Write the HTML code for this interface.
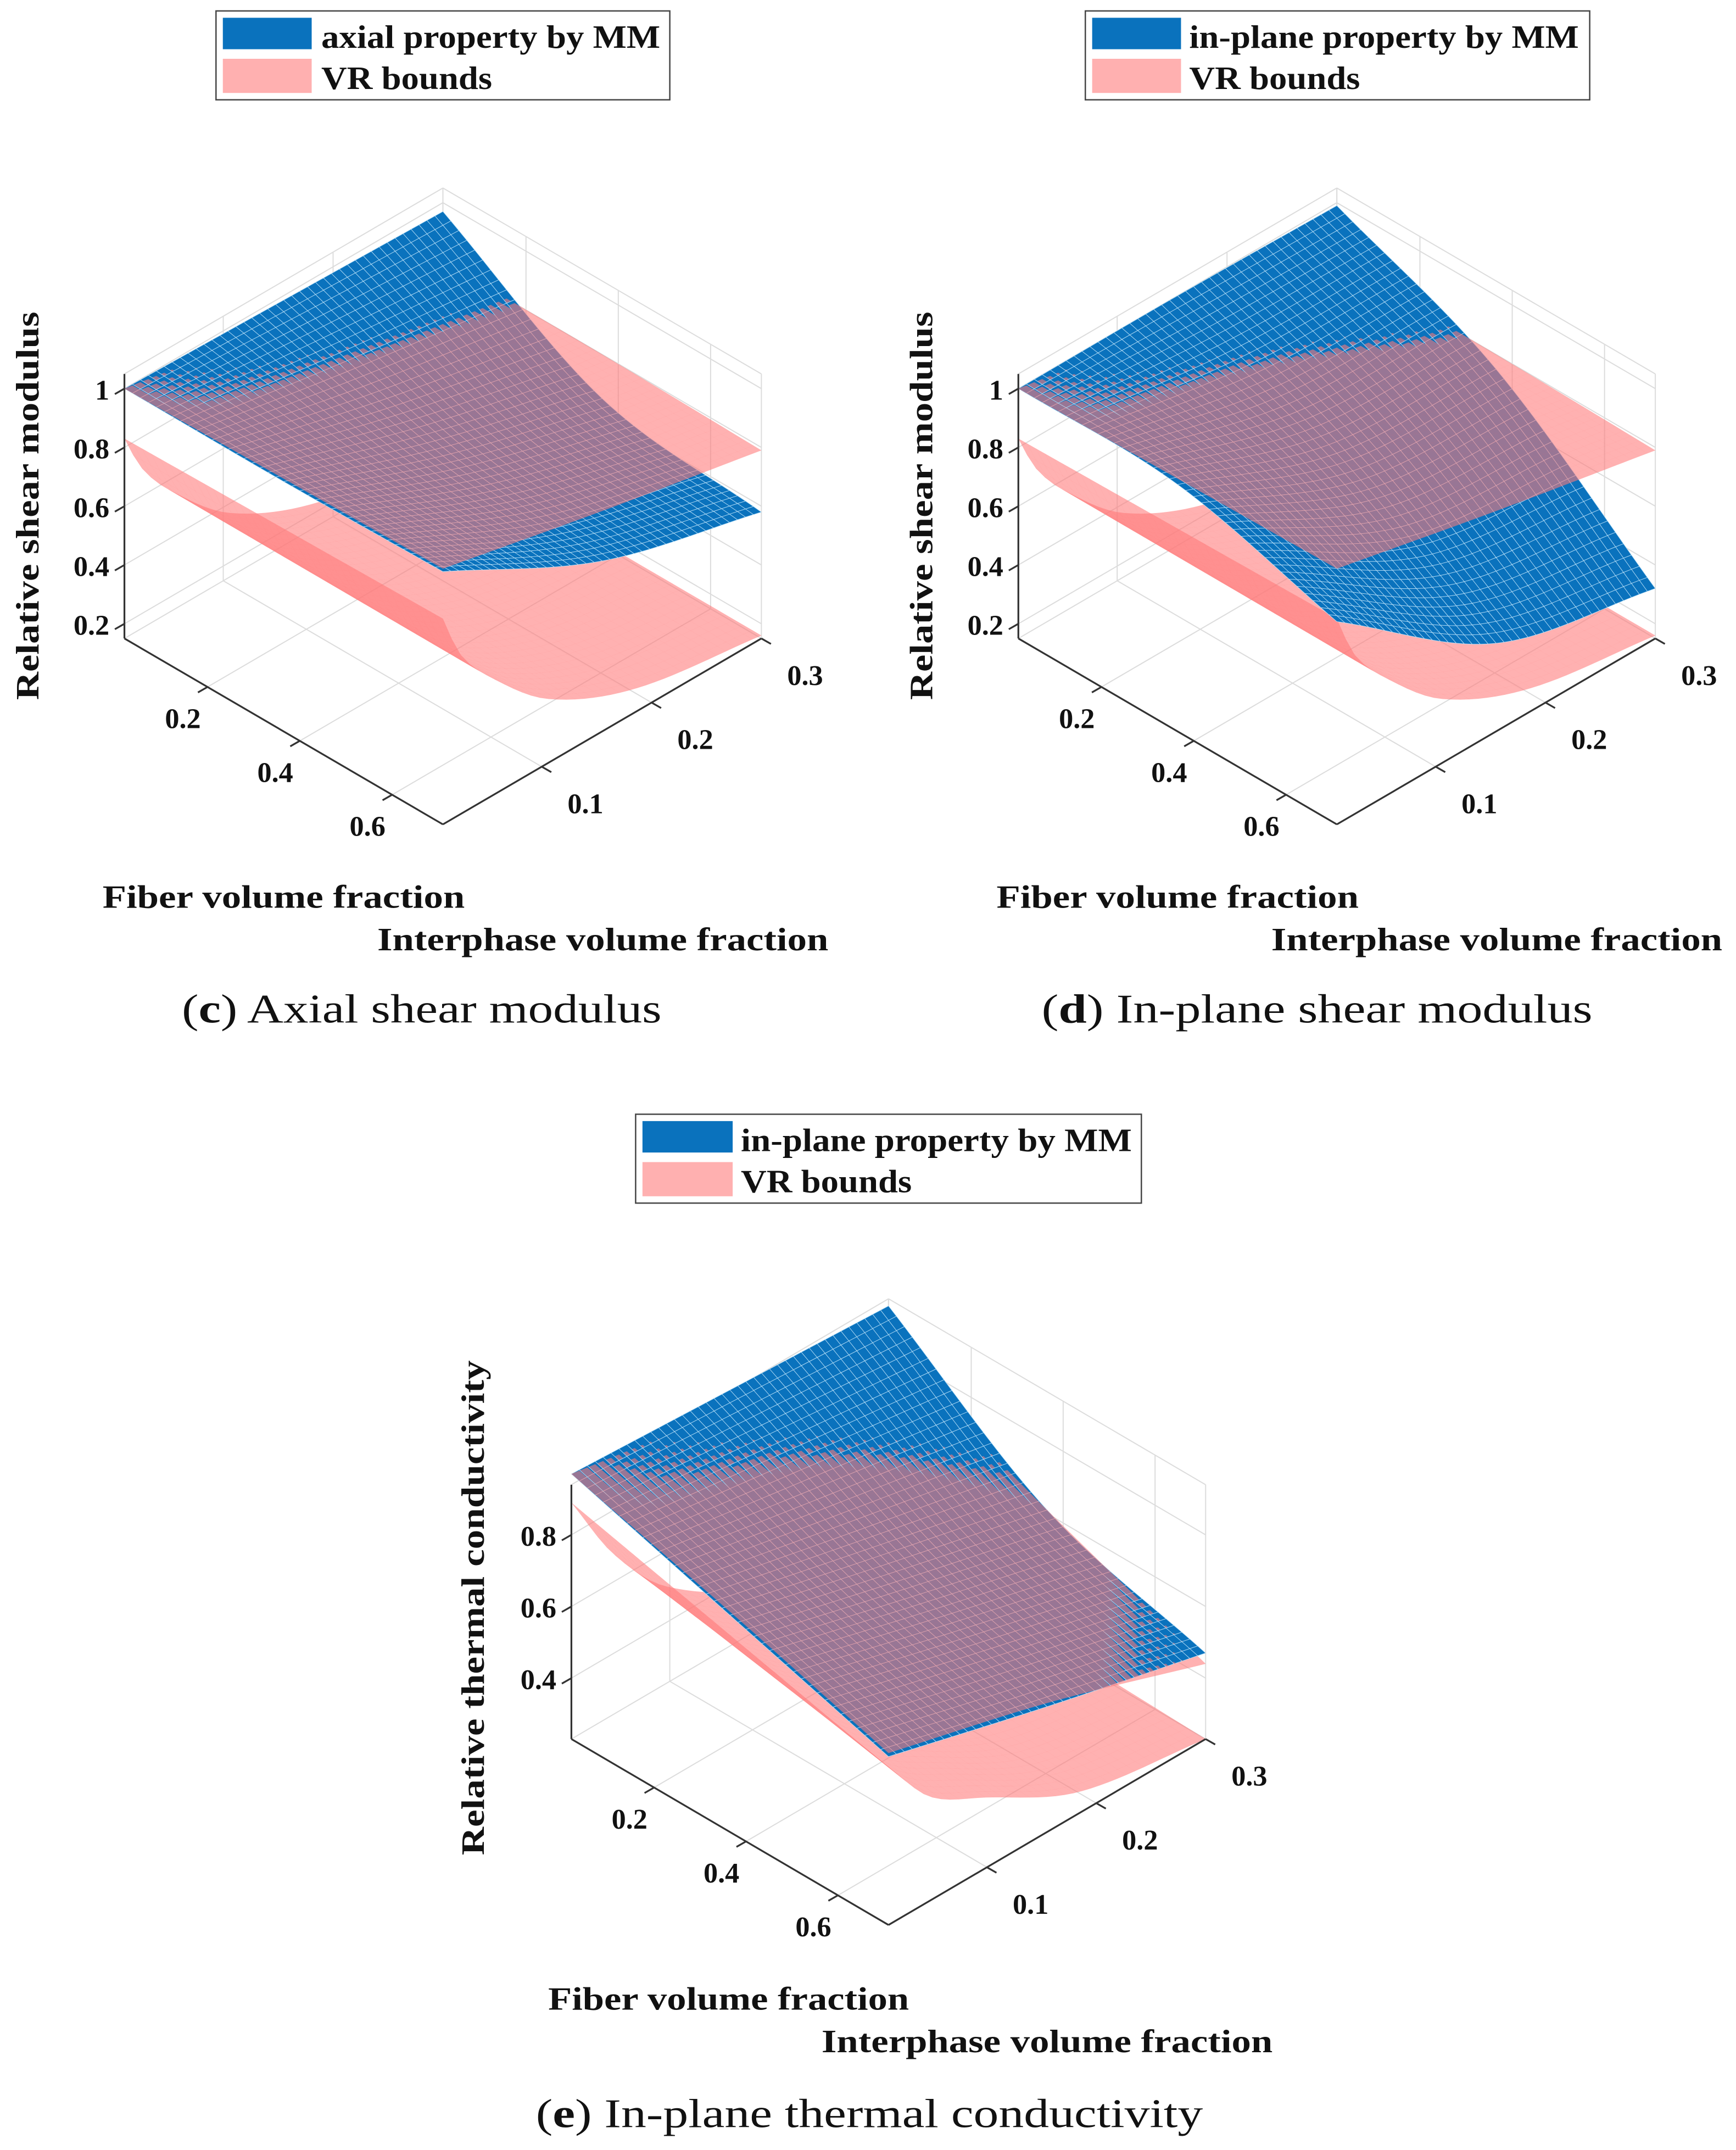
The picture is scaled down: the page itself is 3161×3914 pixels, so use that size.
<!DOCTYPE html>
<html><head><meta charset="utf-8"><style>
html,body{margin:0;padding:0;background:#fff;}
svg{display:block;}
text{font-family:"Liberation Serif","DejaVu Serif",serif;}
</style></head><body>
<svg id="fig" width="3161" height="3914" viewBox="0 0 1270 1572.6" xmlns="http://www.w3.org/2000/svg">
<rect x="0" y="0" width="1270" height="1572.6" fill="#fff"/>
<g id="plots"></g>
<g id="labels" font-weight="bold" fill="#111">
 <g>
  <rect x="158" y="8" width="332" height="65" fill="#fff" stroke="#444" stroke-width="1"/>
  <rect x="163" y="13" width="65" height="23" fill="#0a72bd"/>
  <rect x="163" y="43" width="65" height="25" fill="#ffb0b0"/>
  <text x="235" y="35" font-size="24" textLength="248" lengthAdjust="spacingAndGlyphs">axial property by MM</text>
  <text x="235" y="65" font-size="24" textLength="125" lengthAdjust="spacingAndGlyphs">VR bounds</text>
 </g>
 <g>
  <rect x="794" y="8" width="369" height="65" fill="#fff" stroke="#444" stroke-width="1"/>
  <rect x="799" y="13" width="65" height="23" fill="#0a72bd"/>
  <rect x="799" y="43" width="65" height="25" fill="#ffb0b0"/>
  <text x="870" y="35" font-size="24" textLength="285" lengthAdjust="spacingAndGlyphs">in-plane property by MM</text>
  <text x="870" y="65" font-size="24" textLength="125" lengthAdjust="spacingAndGlyphs">VR bounds</text>
 </g>
 <g>
  <rect x="465" y="815" width="370" height="65" fill="#fff" stroke="#444" stroke-width="1"/>
  <rect x="470" y="820" width="66" height="23" fill="#0a72bd"/>
  <rect x="470" y="850" width="66" height="25" fill="#ffb0b0"/>
  <text x="542" y="842" font-size="24" textLength="286" lengthAdjust="spacingAndGlyphs">in-plane property by MM</text>
  <text x="542" y="872" font-size="24" textLength="125" lengthAdjust="spacingAndGlyphs">VR bounds</text>
 </g>
 <text transform="translate(28,370) rotate(-90)" text-anchor="middle" font-size="24" textLength="284" lengthAdjust="spacingAndGlyphs">Relative shear modulus</text>
 <text transform="translate(682,370) rotate(-90)" text-anchor="middle" font-size="24" textLength="284" lengthAdjust="spacingAndGlyphs">Relative shear modulus</text>
 <text transform="translate(354,1176) rotate(-90)" text-anchor="middle" font-size="24" textLength="362" lengthAdjust="spacingAndGlyphs">Relative thermal conductivity</text>
 <text x="75" y="664" font-size="24" textLength="265" lengthAdjust="spacingAndGlyphs">Fiber volume fraction</text>
 <text x="276" y="695" font-size="24" textLength="330" lengthAdjust="spacingAndGlyphs">Interphase volume fraction</text>
 <text x="729" y="664" font-size="24" textLength="265" lengthAdjust="spacingAndGlyphs">Fiber volume fraction</text>
 <text x="930" y="695" font-size="24" textLength="330" lengthAdjust="spacingAndGlyphs">Interphase volume fraction</text>
 <text x="401" y="1470" font-size="24" textLength="264" lengthAdjust="spacingAndGlyphs">Fiber volume fraction</text>
 <text x="601" y="1501" font-size="24" textLength="330" lengthAdjust="spacingAndGlyphs">Interphase volume fraction</text>
</g>
<g id="captions" fill="#111" font-size="30">
 <text x="133" y="748" textLength="351" lengthAdjust="spacingAndGlyphs">(<tspan font-weight="bold">c</tspan>) Axial shear modulus</text>
 <text x="762" y="748" textLength="403" lengthAdjust="spacingAndGlyphs">(<tspan font-weight="bold">d</tspan>) In-plane shear modulus</text>
 <text x="392" y="1556" textLength="488" lengthAdjust="spacingAndGlyphs">(<tspan font-weight="bold">e</tspan>) In-plane thermal conductivity</text>
</g>
</svg>
<script>
// ---- data ----
const fiberRange = [0.02, 0.71];
const interRange = [0.01, 0.30];
const fiberTicks = [0.2, 0.4, 0.6];
const fiberTickLabels = ["0.2", "0.4", "0.6"];
const interTicks = [0.1, 0.2, 0.3];
const interTickLabels = ["0.1", "0.2", "0.3"];
const zTicksShear = [0.2, 0.4, 0.6, 0.8, 1];
const zTickLabelsShear = ["0.2", "0.4", "0.6", "0.8", "1"];
const zTicksTherm = [0.4, 0.6, 0.8];
const zTickLabelsTherm = ["0.4", "0.6", "0.8"];

const fiberNodes3 = [0.02, 0.365, 0.71];
const interNodes3 = [0.01, 0.155, 0.30];
const fiberNodes2 = [0.02, 0.71];
const interNodesLower = [0.01, 0.025, 0.05, 0.105, 0.185, 0.30];
const interNodesLowerE = [0.01, 0.048, 0.097, 0.184, 0.30];

const mmAxial = [[1.00, 0.985, 0.97],[1.00, 0.80, 0.65],[1.01, 0.73, 0.58]];
const mmInplane = [[1.00, 1.00, 0.99],[0.99, 0.78, 0.75],[0.84, 0.45, 0.32]];
const vrUpperShear = [[1.00, 0.90, 0.80],[1.01, 0.90, 0.80],[1.02, 0.90, 0.79]];
const vrLowerShear = [[0.83, 0.70, 0.57, 0.37, 0.23, 0.16],[0.85, 0.70, 0.57, 0.37, 0.23, 0.16]];
const mmTherm = [[0.97, 0.945, 0.92],[0.835, 0.72, 0.61],[0.70, 0.58, 0.47]];
const vrUpperTherm = [[0.97, 0.89, 0.80],[0.845, 0.77, 0.61],[0.71, 0.59, 0.44]];
const vrLowerTherm = [[0.89, 0.68, 0.50, 0.34, 0.26],[0.67, 0.52, 0.43, 0.29, 0.23]];

const NS = "http://www.w3.org/2000/svg";
function mk(tag, attrs, parent){ const e=document.createElementNS(NS,tag); for(const k in attrs) e.setAttribute(k,attrs[k]); if(parent) parent.appendChild(e); return e; }

function interp1(xs, ys, x){
  const n=xs.length;
  if(n===2){ const t=(x-xs[0])/(xs[1]-xs[0]); return ys[0]+(ys[1]-ys[0])*t; }
  let k=0; while(k<n-2 && x>xs[k+1]) k++;
  const slope=i=>{ if(i===0) return (ys[1]-ys[0])/(xs[1]-xs[0]); if(i===n-1) return (ys[n-1]-ys[n-2])/(xs[n-1]-xs[n-2]); return (ys[i+1]-ys[i-1])/(xs[i+1]-xs[i-1]); };
  const h=xs[k+1]-xs[k], t=(x-xs[k])/h;
  const m0=slope(k)*h, m1=slope(k+1)*h;
  const t2=t*t,t3=t2*t;
  return (2*t3-3*t2+1)*ys[k]+(t3-2*t2+t)*m0+(-2*t3+3*t2)*ys[k+1]+(t3-t2)*m1;
}
function surfVal(fN, iN, grid, f, i){
  const col = fN.map((_,r)=>interp1(iN, grid[r], i));
  return interp1(fN, col, f);
}

function makePlot(cfg){
  const root = mk('g',{},document.getElementById('plots'));
  
  
  const uOf=f=>(f-fiberRange[0])/(fiberRange[1]-fiberRange[0]);
  const vOf=i=>(i-interRange[0])/(interRange[1]-interRange[0]);
  const P=(u,v,z)=>[cfg.L[0]+u*(cfg.B[0]-cfg.L[0])+v*(cfg.R[0]-cfg.B[0]),
                    cfg.L[1]+u*(cfg.B[1]-cfg.L[1])+v*(cfg.R[1]-cfg.B[1])-(z-cfg.zb)*cfg.S];
  const pt=a=>a[0].toFixed(2)+','+a[1].toFixed(2);
  const grid = mk('g',{stroke:'#dcdcdc','stroke-width':0.8,fill:'none'},root);
  
  
  const line=(a,b,g)=>mk('line',{x1:a[0],y1:a[1],x2:b[0],y2:b[1]},g);
  fiberTicks.forEach(f=>{const u=uOf(f); line(P(u,0,cfg.zb),P(u,1,cfg.zb),grid); line(P(u,1,cfg.zb),P(u,1,cfg.zt),grid);});
  interTicks.forEach(i=>{const v=vOf(i); line(P(0,v,cfg.zb),P(1,v,cfg.zb),grid); line(P(0,v,cfg.zb),P(0,v,cfg.zt),grid);});
  cfg.zt_ticks.forEach(z=>{ line(P(0,0,z),P(0,1,z),grid); line(P(0,1,z),P(1,1,z),grid); });
  line(P(0,1,cfg.zb),P(0,1,cfg.zt),grid);
  line(P(1,1,cfg.zb),P(1,1,cfg.zt),grid);
  line(P(0,0,cfg.zt),P(0,1,cfg.zt),grid);
  line(P(0,1,cfg.zt),P(1,1,cfg.zt),grid);
  line(P(0,1,cfg.zb),P(0,0,cfg.zb),grid);
  line(P(0,1,cfg.zb),P(1,1,cfg.zb),grid);
  const quads=[];
  cfg.surfaces.forEach(s=>{
    const nu=s.n, nv=s.n, pts=[];
    for(let a=0;a<=nu;a++){ pts.push([]); for(let b=0;b<=nv;b++){
      const u=a/nu, v=b/nv;
      const f=fiberRange[0]+u*(fiberRange[1]-fiberRange[0]);
      const i=interRange[0]+v*(interRange[1]-interRange[0]);
      const z=surfVal(s.fN,s.iN,s.grid,f,i);
      pts[a].push([u,v,z]); } }
    for(let a=0;a<nu;a++) for(let b=0;b<nv;b++){
      const c=[pts[a][b],pts[a+1][b],pts[a+1][b+1],pts[a][b+1]];
      let d=0; c.forEach(q=>{d+=(q[0]-q[1])*189+q[2]*155;});
      quads.push({d:d/4+(s.bias||0),c:c,blue:s.blue});
    }
  });
  quads.sort((x,y)=>x.d-y.d);
  const sg = mk('g',{},root);
  
  
  quads.forEach(q=>{
    const p=q.c.map(c=>pt(P(c[0],c[1],c[2]))).join(' ');
    if(q.blue){
      const el=mk('polygon',{points:p,fill:'#0a72bd',stroke:'#b5def7','stroke-width':0.35},sg);
      
      
    } else {
      const el=mk('polygon',{points:p,fill:'#ff7878','fill-opacity':0.58,stroke:'#ff7878','stroke-opacity':0.2,'stroke-width':0.12},sg);
      
      
    }
  });
  const ax = mk('g',{stroke:'#333','stroke-width':1.3,fill:'none'},root);
  
  
  line(P(0,0,cfg.zb),P(1,0,cfg.zb),ax);
  line(P(1,0,cfg.zb),P(1,1,cfg.zb),ax);
  line(P(0,0,cfg.zb),P(0,0,cfg.zt),ax);
  const tl = mk('g',{'font-size':21,'font-weight':'bold',fill:'#111'},root);
  
  
  fiberTicks.forEach((f,k)=>{const u=uOf(f); const a=P(u,0,cfg.zb); line(a,[a[0]-7,a[1]+4],ax);
    const t=mk('text',{x:a[0]-18,y:a[1]+30,'text-anchor':'middle'},tl); t.textContent=fiberTickLabels[k];
     });
  interTicks.forEach((i,k)=>{const v=vOf(i); const a=P(1,v,cfg.zb); line(a,[a[0]+7,a[1]+4],ax);
    const t=mk('text',{x:a[0]+32,y:a[1]+34,'text-anchor':'middle'},tl); t.textContent=interTickLabels[k];
     });
  cfg.zt_ticks.forEach((z,k)=>{const a=P(0,0,z); line(a,[a[0]-7,a[1]+4],ax);
    const t=mk('text',{x:a[0]-11,y:a[1]+8,'text-anchor':'end'},tl); t.textContent=cfg.zt_labels[k];
     });
}

makePlot({name:'plot-c-axial-shear', L:[91,467], B:[324,603], R:[557,467], S:215, zb:0.15, zt:1.05,
  zt_ticks:zTicksShear, zt_labels:zTickLabelsShear,
  surfaces:[
    {fN:fiberNodes2,iN:interNodesLower,grid:vrLowerShear,blue:false,n:36},
    {fN:fiberNodes3,iN:interNodes3,grid:mmAxial,blue:true,n:40},
    {fN:fiberNodes3,iN:interNodes3,grid:vrUpperShear,blue:false,n:40,bias:5}]});
makePlot({name:'plot-d-inplane-shear', L:[745,467], B:[978,603], R:[1211,467], S:215, zb:0.15, zt:1.05,
  zt_ticks:zTicksShear, zt_labels:zTickLabelsShear,
  surfaces:[
    {fN:fiberNodes2,iN:interNodesLower,grid:vrLowerShear,blue:false,n:36},
    {fN:fiberNodes3,iN:interNodes3,grid:mmInplane,blue:true,n:40},
    {fN:fiberNodes3,iN:interNodes3,grid:vrUpperShear,blue:false,n:40,bias:5}]});
makePlot({name:'plot-e-thermal', L:[418,1272], B:[650,1408], R:[882,1272], S:262, zb:0.23, zt:0.94,
  zt_ticks:zTicksTherm, zt_labels:zTickLabelsTherm,
  surfaces:[
    {fN:fiberNodes2,iN:interNodesLowerE,grid:vrLowerTherm,blue:false,n:36},
    {fN:fiberNodes3,iN:interNodes3,grid:mmTherm,blue:true,n:40},
    {fN:fiberNodes3,iN:interNodes3,grid:vrUpperTherm,blue:false,n:40,bias:5}]});
</script>
</body></html>
